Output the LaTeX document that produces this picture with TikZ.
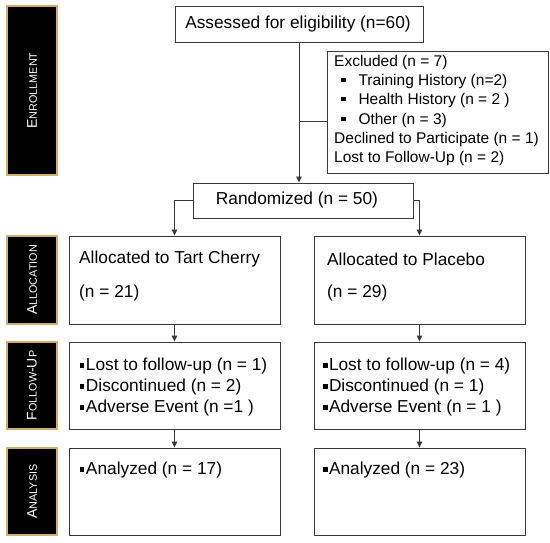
\documentclass[tikz,border=0pt]{standalone}
\usepackage{fontspec}
\setmainfont{Liberation Sans}
\usetikzlibrary{arrows.meta}
\definecolor{tan}{HTML}{D2AE6C}
\definecolor{boxline}{HTML}{3A3A3A}
\newcommand{\sq}{\raisebox{0.32ex}{\rule{4.3pt}{4.3pt}}}
\newcommand{\sclabel}[2]{\fontsize{14}{14}\selectfont #1\fontsize{10.8}{11}\selectfont #2}
\tikzset{
  sidebox/.style={draw=tan, line width=1.2pt, fill=black, inner sep=0pt, text=white, rotate=90, anchor=center},
  flowbox/.style={draw=boxline, line width=0.9pt, fill=white, inner sep=0pt},
  maintext/.style={inner sep=0pt, font=\fontsize{17.3}{20}\selectfont},
  smalltext/.style={inner sep=0pt, font=\fontsize{15.5}{19}\selectfont},
  conn/.style={draw=boxline, line width=0.9pt},
  arr/.style={conn, -{Triangle[length=6pt,width=5.5pt]}}
}
\begin{document}
\begin{tikzpicture}[x=1pt,y=-1pt]
\useasboundingbox (0,0) rectangle (550,543);
% side labels
\node[sidebox, minimum width=169pt, minimum height=50pt] (enr) at (32,90.5) {\sclabel{E}{NROLLMENT}};
\node[sidebox, minimum width=88pt, minimum height=50pt] (alo) at (32,280) {\sclabel{A}{LLOCATION}};
\node[sidebox, minimum width=87pt, minimum height=50pt] (fol) at (32,385.5) {\sclabel{F}{OLLOW}\sclabel{-U}{P}};
\node[sidebox, minimum width=87pt, minimum height=50pt] (ana) at (32,491.5) {\sclabel{A}{NALYSIS}};
% boxes
\node[flowbox, minimum width=248pt, minimum height=36pt] (assess) at (299,24) {};
\node[flowbox, minimum width=221pt, minimum height=122pt] (excl) at (437.5,112) {};
\node[flowbox, minimum width=220pt, minimum height=35pt] (rand) at (303,200.5) {};
\node[flowbox, minimum width=211pt, minimum height=88pt] (allocL) at (174.5,280) {};
\node[flowbox, minimum width=211pt, minimum height=88pt] (allocR) at (419.5,280) {};
\node[flowbox, minimum width=211pt, minimum height=87pt] (folL) at (174.5,385.5) {};
\node[flowbox, minimum width=211pt, minimum height=87pt] (folR) at (419.5,385.5) {};
\node[flowbox, minimum width=211pt, minimum height=87pt] (anaL) at (174.5,491.5) {};
\node[flowbox, minimum width=211pt, minimum height=87pt] (anaR) at (419.5,491.5) {};
% texts
\node[maintext] (tassess) at (298,24) {Assessed for eligibility (n=60)};
\node[maintext] (trand) at (297,200.5) {Randomized (n = 50)};
\node[smalltext, anchor=west] (e1) at (334,62) {Excluded (n = 7)};
\node[smalltext, anchor=west] (e2) at (341,81) {\sq\hspace{13pt}Training History (n=2)};
\node[smalltext, anchor=west] (e3) at (341,100) {\sq\hspace{13pt}Health History (n = 2 )};
\node[smalltext, anchor=west] (e4) at (341,120) {\sq\hspace{13pt}Other (n = 3)};
\node[smalltext, anchor=west] (e5) at (334,139) {Declined to Participate (n = 1)};
\node[smalltext, anchor=west] (e6) at (334,158) {Lost to Follow-Up (n = 2)};
\node[maintext, anchor=west] (aL1) at (79,259) {Allocated to Tart Cherry};
\node[maintext, anchor=west] (aL2) at (79,293) {(n = 21)};
\node[maintext, anchor=west] (aR1) at (327,259) {Allocated to Placebo};
\node[maintext, anchor=west] (aR2) at (327,293) {(n = 29)};
\node[maintext, anchor=west] (fL1) at (80,366) {\sq\hspace{1.5pt}Lost to follow-up (n = 1)};
\node[maintext, anchor=west] (fL2) at (80,387) {\sq\hspace{1.5pt}Discontinued (n = 2)};
\node[maintext, anchor=west] (fL3) at (80,408) {\sq\hspace{1.5pt}Adverse Event (n =1 )};
\node[maintext, anchor=west] (fR1) at (323,366) {\sq\hspace{1.5pt}Lost to follow-up (n = 4)};
\node[maintext, anchor=west] (fR2) at (323,387) {\sq\hspace{1.5pt}Discontinued (n = 1)};
\node[maintext, anchor=west] (fR3) at (323,408) {\sq\hspace{1.5pt}Adverse Event (n = 1 )};
\node[maintext, anchor=west] (nL) at (80,470) {\sq\hspace{1.5pt}Analyzed (n = 17)};
\node[maintext, anchor=west] (nR) at (323,470) {\sq\hspace{1.5pt}Analyzed (n = 23)};
% connectors
\coordinate (junc) at (299,121);
\draw[arr] (assess.south) -- (assess.south |- rand.north);
\draw[conn] (junc) -- (junc -| excl.west);
\draw[arr] (rand.west) -| (allocL.north);
\draw[arr] (rand.east) -| (allocR.north);
\draw[arr] (allocL.south) -- (folL.north);
\draw[arr] (allocR.south) -- (folR.north);
\draw[arr] (folL.south) -- (anaL.north);
\draw[arr] (folR.south) -- (anaR.north);
\end{tikzpicture}
\end{document}
